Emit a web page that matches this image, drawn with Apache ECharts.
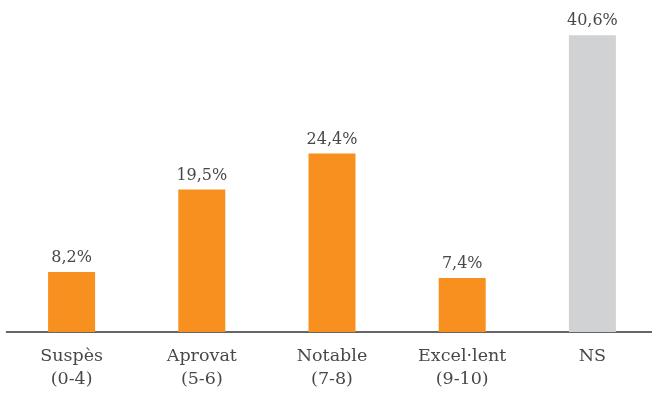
<!DOCTYPE html>
<html>
<head>
<meta charset="utf-8">
<script src="https://cdn.jsdelivr.net/npm/echarts@6/dist/echarts.min.js"></script>
<style>html,body{margin:0;padding:0;background:#fff;overflow:hidden}#c{width:662px;height:393px}</style>
</head>
<body>
<div id="c"></div>
<script>
const categories = ["Suspès\n(0-4)", "Aprovat\n(5-6)", "Notable\n(7-8)", "Excel·lent\n(9-10)", "NS"];
const values = [8.2, 19.5, 24.4, 7.4, 40.6];
const barColors = ["#F7901E", "#F7901E", "#F7901E", "#F7901E", "#D1D2D4"];

const chart = echarts.init(document.getElementById('c'));
chart.setOption({
  animation: false,
  grid: {left: 6.5, right: 4.5, top: 3, bottom: 61, containLabel: false},
  xAxis: {
    type: 'category',
    data: categories,
    axisTick: {show: false},
    axisLine: {lineStyle: {color: '#333', width: 1.5}},
    axisLabel: {color: '#484848', fontFamily: 'DejaVu Serif', fontSize: 17.5, lineHeight: 23, margin: 13}
  },
  yAxis: {type: 'value', min: 0, max: 45, show: false, splitLine: {show: false}},
  series: [{
    type: 'bar',
    barWidth: 47,
    data: values.map((v, i) => ({value: v, itemStyle: {color: barColors[i]}})),
    label: {
      show: true, position: 'top', distance: 6,
      color: '#484848', fontFamily: 'DejaVu Serif', fontSize: 16,
      formatter: p => p.value.toFixed(1).replace('.', ',') + '%'
    }
  }]
});
</script>
</body>
</html>
